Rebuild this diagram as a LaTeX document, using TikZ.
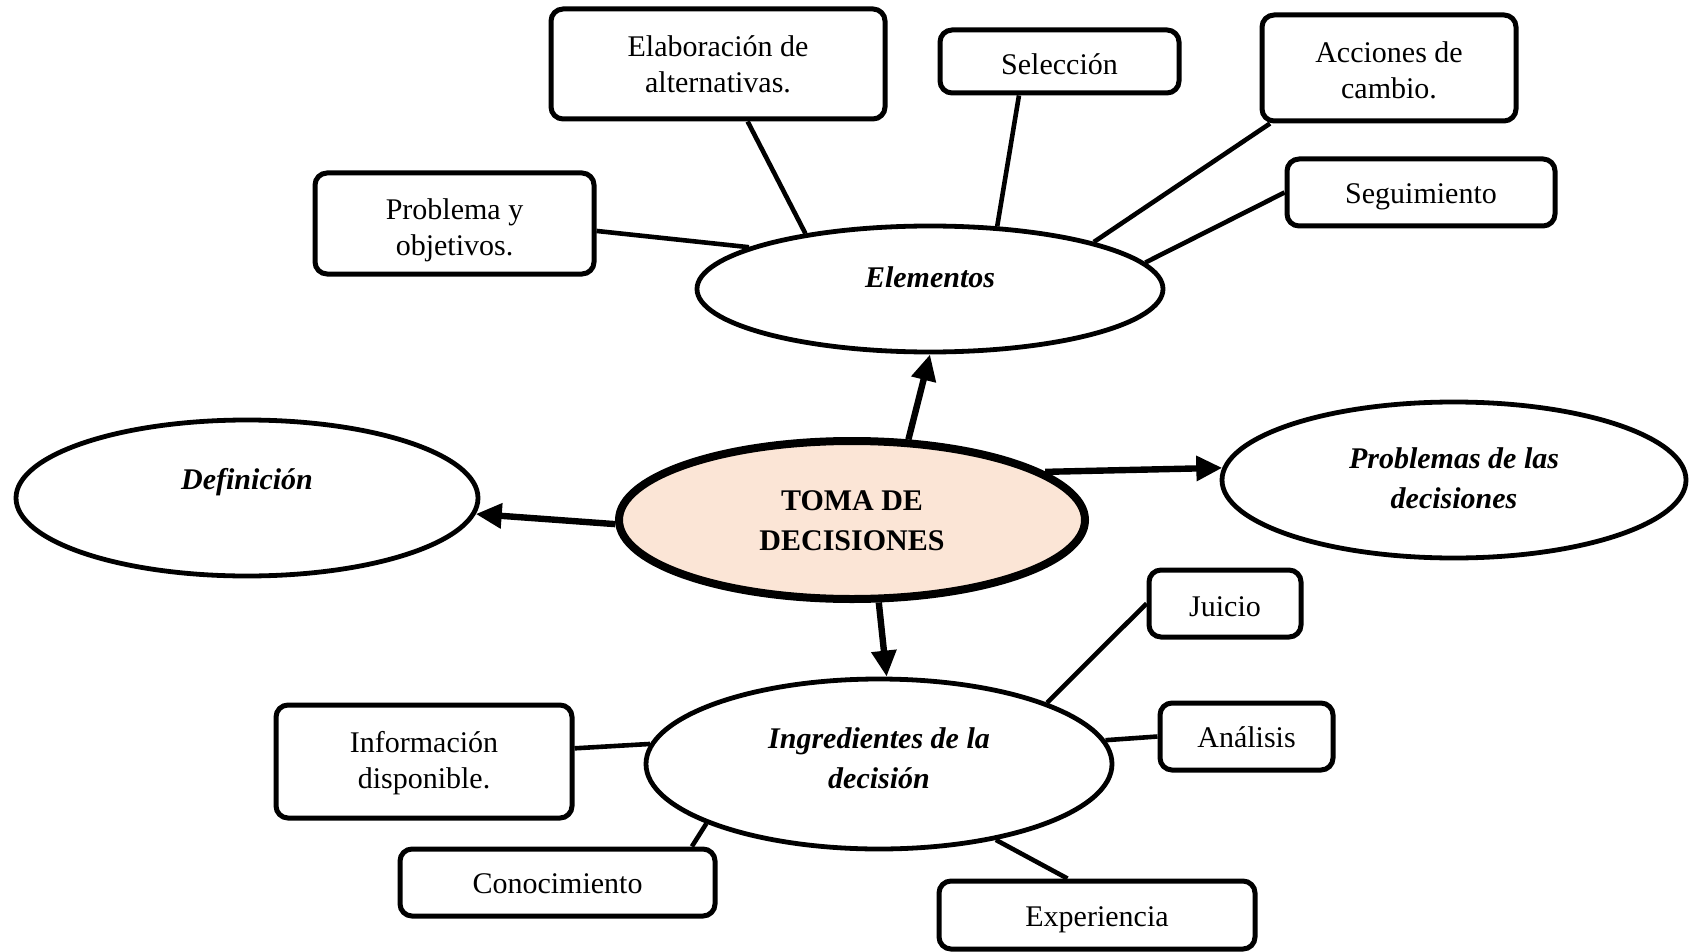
\documentclass[tikz,border=0pt]{standalone}
\usepackage{fontspec}
\setmainfont{Liberation Serif}
\usetikzlibrary{arrows.meta,shapes.geometric,calc}
\definecolor{peach}{HTML}{FBE5D6}
\begin{document}
\begin{tikzpicture}[x=0.5pt,y=-0.5pt, font=\fontsize{15}{18}\selectfont,
 box/.style={draw, line width=2.5pt, rounded corners=6pt, align=center, inner sep=0pt},
 btext/.style={align=center, inner sep=0pt},
 ell/.style={draw, ellipse, line width=2.4pt, inner sep=0pt},
 link/.style={line width=2.3pt},
 arr/.style={line width=3.2pt, -{Triangle[length=13pt,width=12pt]}},
 etext/.style={font=\fontsize{15}{20}\selectfont\bfseries\itshape, align=center}]
\path[use as bounding box] (0,0) rectangle (1696,952);
% ellipses
\node[ell, minimum width=233pt, minimum height=63pt] (elem) at (930,289) {};
\node[ell, fill=peach, line width=4pt, minimum width=233pt, minimum height=79pt] (toma) at (852,520) {};
\node[ell, minimum width=231pt, minimum height=78pt] (def) at (247,498) {};
\node[ell, minimum width=232pt, minimum height=78pt] (prob) at (1454,480) {};
\node[ell, minimum width=233pt, minimum height=85pt] (ingr) at (879,764) {};
% ellipse texts
\node[etext] (elemt) at (930,277) {Elementos};
\node[etext, font=\fontsize{15}{20}\selectfont\bfseries] (tomat) at (852,521) {TOMA DE\\DECISIONES};
\node[etext] (deft) at (247,482) {Definición};
\node[etext] (probt) at (1454,478) {Problemas de las\\decisiones};
\node[etext] (ingrt) at (879,758) {Ingredientes de la\\decisión};
% boxes
\node[box, minimum width=167pt, minimum height=55pt] (elab) at (718,64) {};
\node[box, minimum width=119.5pt, minimum height=31.5pt] (sel) at (1059.5,61.5) {};
\node[box, minimum width=127pt, minimum height=53pt] (acc) at (1389,68) {};
\node[box, minimum width=134pt, minimum height=33.5pt] (seg) at (1421,192.5) {};
\node[box, minimum width=139.5pt, minimum height=50.5pt] (pyo) at (454.5,223.5) {};
\node[box, minimum width=148pt, minimum height=56.5pt] (info) at (424,761.5) {};
\node[box, minimum width=157.5pt, minimum height=33.5pt] (con) at (557.5,882.5) {};
\node[box, minimum width=158pt, minimum height=34pt] (exp) at (1097,915) {};
\node[box, minimum width=76pt, minimum height=33.5pt] (jui) at (1225,603.5) {};
\node[box, minimum width=86.5pt, minimum height=33.5pt] (ana) at (1246.5,736.5) {};
% box texts
\node[btext] (elabt) at ($(elab)+(0,0)$) {Elaboración de\\alternativas.};
\node[btext] (selt) at ($(sel)+(0,3)$) {Selección};
\node[btext] (acct) at ($(acc)+(0,2)$) {Acciones de\\cambio.};
\node[btext] (segt) at ($(seg)+(0,4)$) {Seguimiento};
\node[btext] (pyot) at ($(pyo)+(0,7)$) {Problema y\\objetivos.};
\node[btext] (infot) at ($(info)+(0,1.5)$) {Información\\disponible.};
\node[btext] (cont) at ($(con)+(0,1)$) {Conocimiento};
\node[btext] (expt) at ($(exp)+(0,5)$) {Experiencia};
\node[btext] (juit) at ($(jui)+(0,3)$) {Juicio};
\node[btext] (anat) at ($(ana)+(0,1)$) {Análisis};
% connectors
\draw[link] (pyo.-3) -- (elem.167);
\draw[link] (elem.156) -- (elab);
\draw[link] (elem.43) -- (sel.220);
\draw[link] (elem.16) -- (acc.205.5);
\draw[link] (elem.7.6) -- (seg.west);
\draw[arr] (toma.55) -- (elem.south);
\draw[arr] (toma.181) -- (def.356);
\draw[arr] (toma.14) -- (prob.177);
\draw[arr] (toma.288) -- (ingr.85);
\draw[link] (ingr.175.5) -- (info.5);
\draw[link] (ingr.199.8) -- (con.15.8);
\draw[link] (ingr.327.6) -- (exp.129.5);
\draw[link] (ingr.20) -- (jui.west);
\draw[link] (ingr.6.6) -- (ana.west);
\end{tikzpicture}
\end{document}
